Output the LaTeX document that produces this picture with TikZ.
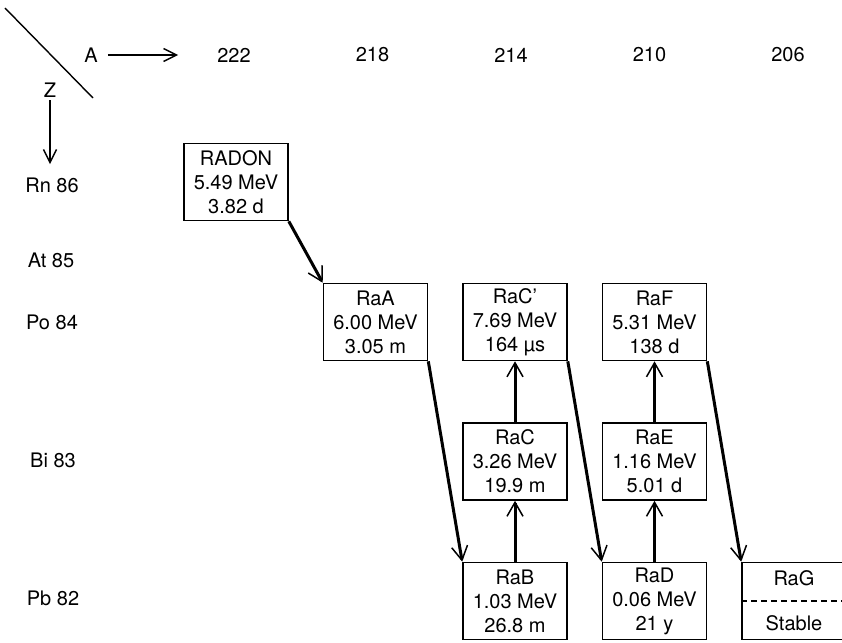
\documentclass[tikz,border=0pt]{standalone}
\usepackage{fontspec}
\setmainfont{TeX Gyre Heros}
\usetikzlibrary{arrows.meta}

\begin{document}
\begin{tikzpicture}[x=1pt, y=-1pt,
  lbl/.style={font=\fontsize{20}{24}\selectfont, inner sep=0pt},
  nuclide/.style={lbl, draw, line width=1.6pt, minimum width=104pt, minimum height=77pt, align=center},
  decay/.style={line width=3pt, -{Straight Barb[length=14pt,width=16pt,line width=1.5pt]}},
  axis/.style={line width=2pt, -{Straight Barb[length=13pt,width=13pt,line width=1.4pt]}}]
  \useasboundingbox (0,0) rectangle (842,642);
  \clip (0,0) rectangle (842,642);

  % 坐标轴
  \draw[line width=1.4pt] (5,8) -- (93,98);
  \node[lbl] (A) at (91,55) {A};
  \node[lbl] (Z) at (50,90) {Z};
  \coordinate (zend) at (50,164);

  % 质量数 A
  \node[lbl] (m222) at (234,55) {222};
  \node[lbl] (m218) at (372.5,55) {218};
  \node[lbl] (m214) at (511,55) {214};
  \node[lbl] (m210) at (649.5,55) {210};
  \node[lbl] (m206) at (788,55) {206};
  \draw[axis] ([xshift=10pt]A.east) -- ([xshift=-39pt]m222.west);
  \draw[axis] ([yshift=-3pt]Z.south) -- (zend);

  % 原子序数 Z
  \node[lbl] (Rn) at (52,185) {Rn 86};
  \node[lbl] (At) at (51,260) {At 85};
  \node[lbl] (Po) at (52,322) {Po 84};
  \node[lbl] (Bi) at (53,460) {Bi 83};
  \node[lbl] (Pb) at (53,598) {Pb 82};

  % 核素
  \node[nuclide] (RADON) at (236,182) {RADON\\5.49 MeV\\3.82 d};
  \node[nuclide] (RaA) at (375.5,322) {RaA\\6.00 MeV\\3.05 m};
  \node[nuclide] (RaCp) at (515,322) {RaC’\\7.69 MeV\\164 µs};
  \node[nuclide] (RaF) at (654.5,322) {RaF\\5.31 MeV\\138 d};
  \node[nuclide] (RaC) at (515,461.5) {RaC\\3.26 MeV\\19.9 m};
  \node[nuclide] (RaE) at (654.5,461.5) {RaE\\1.16 MeV\\5.01 d};
  \node[nuclide] (RaB) at (515,601) {RaB\\1.03 MeV\\26.8 m};
  \node[nuclide] (RaD) at (654.5,601) {RaD\\0.06 MeV\\21 y};
  \node[nuclide] (RaG) at (794,601) {RaG\\[21pt]Stable};
  \draw[line width=1.3pt, dash pattern=on 6pt off 4pt] (RaG.west) -- (RaG.east);

  % 衰变
  \draw[decay] (RADON.south east) -- (RaA.north west);
  \draw[decay] (RaA.south east) -- (RaB.north west);
  \draw[decay] (RaB.north) -- (RaC.south);
  \draw[decay] (RaC.north) -- (RaCp.south);
  \draw[decay] (RaCp.south east) -- (RaD.north west);
  \draw[decay] (RaD.north) -- (RaE.south);
  \draw[decay] (RaE.north) -- (RaF.south);
  \draw[decay] (RaF.south east) -- (RaG.north west);
\end{tikzpicture}
\end{document}
